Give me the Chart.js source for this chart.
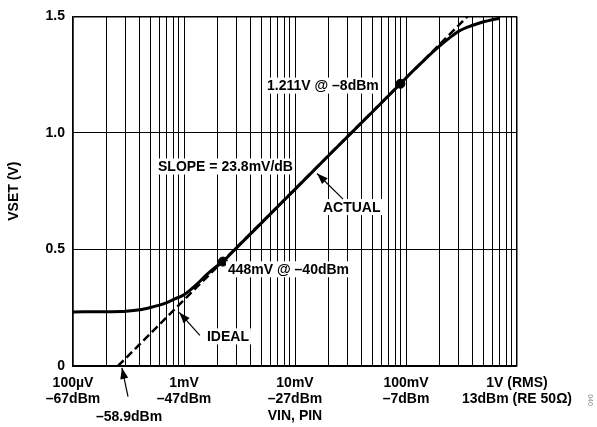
<!DOCTYPE html>
<html>
<head>
<meta charset="utf-8">
<script src="https://cdn.jsdelivr.net/npm/chart.js@4/dist/chart.umd.min.js"></script>
<style>
  html, body { margin: 0; padding: 0; background: #fff; }
  #wrap { width: 597px; height: 427px; }
</style>
</head>
<body>
<div id="wrap"><canvas id="chartVset"></canvas></div>
<script>
// input voltage (V rms) and VSET (V)
const actualVin = [1e-4, 2e-4, 3e-4, 4e-4, 5e-4, 6e-4, 7e-4, 8e-4, 1e-3, 1.3e-3, 1.6e-3, 2e-3, 2.24e-3, 3e-3, 5e-3, 1e-2, 2e-2, 5e-2, 8.91e-2, 0.11, 0.15, 0.2, 0.25, 0.3, 0.4, 0.5, 0.6, 0.7];
const actualVset = [0.232, 0.233, 0.235, 0.241, 0.251, 0.261, 0.272, 0.285, 0.306, 0.350, 0.392, 0.430, 0.448, 0.509, 0.614, 0.758, 0.902, 1.091, 1.211, 1.256, 1.318, 1.372, 1.41, 1.437, 1.462, 1.477, 1.486, 1.492];

// ideal line: 0 V at -58.9 dBm, 23.8 mV/dB
const idealVin = [2.54e-4, 0.359];
const idealVset = [0, 1.5];

// marked points
const markVin = [2.24e-3, 8.91e-2];
const markVset = [0.448, 1.211];

const decades = [1e-4, 1e-3, 1e-2, 1e-1, 1];
const decadeLabels = [
  ["100µV", "–67dBm"],
  ["1mV", "–47dBm"],
  ["10mV", "–27dBm"],
  ["100mV", "–7dBm"],
  ["1V (RMS)", "13dBm (RE 50Ω)"],
];
const yTicks = [0, 0.5, 1.0, 1.5];

const noteText = ["SLOPE = 23.8mV/dB", "ACTUAL", "448mV @ –40dBm", "1.211V @ –8dBm", "IDEAL", "–58.9dBm"];
const noteX = [5.83e-4, 0.01787, 0.00249, 0.0056, 0.00161, 3.2e-4];
const noteY = [0.856, 0.682, 0.415, 1.203, 0.127, -0.216];

const arrowFrom = [[0.0271, 0.716], [0.00139, 0.131], [3.13e-4, -0.131]];
const arrowTo = [[0.0158, 0.826], [9.07e-4, 0.23], [2.76e-4, -0.008]];

const FONT = "'Liberation Sans', Arial, sans-serif";

function pts(xs, ys) {
  return xs.map((x, i) => ({ x: x, y: ys[i] }));
}

const notesPlugin = {
  id: "notes",
  afterDatasetsDraw(chart) {
    const ctx = chart.ctx;
    const sx = chart.scales.x;
    const sy = chart.scales.y;
    ctx.save();
    ctx.font = "bold 14px " + FONT;
    ctx.textBaseline = "middle";
    noteText.forEach((t, i) => {
      const px = sx.getPixelForValue(noteX[i]);
      const py = sy.getPixelForValue(noteY[i]);
      const w = ctx.measureText(t).width;
      let left = px;
      if (i === 5) left = px - w / 2;
      if (i !== 5) {
        ctx.fillStyle = "#fff";
        ctx.fillRect(left - 2, py - 8, w + 4, 16);
      }
      ctx.fillStyle = "#000";
      ctx.textAlign = "left";
      ctx.fillText(t, left, py + 1);
    });

    // arrows
    ctx.strokeStyle = "#000";
    ctx.fillStyle = "#000";
    ctx.lineWidth = 1.2;
    arrowFrom.forEach((f, i) => {
      const x0 = sx.getPixelForValue(f[0]);
      const y0 = sy.getPixelForValue(f[1]);
      const x1 = sx.getPixelForValue(arrowTo[i][0]);
      const y1 = sy.getPixelForValue(arrowTo[i][1]);
      const a = Math.atan2(y1 - y0, x1 - x0);
      ctx.beginPath();
      ctx.moveTo(x0, y0);
      ctx.lineTo(x1, y1);
      ctx.stroke();
      const hl = 11, hw = 4;
      ctx.beginPath();
      ctx.moveTo(x1, y1);
      ctx.lineTo(x1 - hl * Math.cos(a) + hw * Math.sin(a), y1 - hl * Math.sin(a) - hw * Math.cos(a));
      ctx.lineTo(x1 - hl * Math.cos(a) - hw * Math.sin(a), y1 - hl * Math.sin(a) + hw * Math.cos(a));
      ctx.closePath();
      ctx.fill();
    });

    // figure number
    ctx.translate(chart.width - 7, 400);
    ctx.rotate(Math.PI / 2);
    ctx.font = "7px " + FONT;
    ctx.fillStyle = "#888";
    ctx.textAlign = "center";
    ctx.fillText("040", 0, 0);
    ctx.restore();
  },
};

new Chart(document.getElementById("chartVset"), {
  type: "line",
  data: {
    datasets: [
      {
        data: pts(idealVin, idealVset),
        borderColor: "#000",
        borderWidth: 2.5,
        borderDash: [8, 4],
        pointRadius: 0,
        tension: 0,
      },
      {
        data: pts(actualVin, actualVset),
        borderColor: "#000",
        borderWidth: 3,
        pointRadius: 0,
        cubicInterpolationMode: "monotone",
      },
      {
        data: pts(markVin, markVset),
        showLine: false,
        pointRadius: 4.5,
        pointBackgroundColor: "#000",
        pointBorderColor: "#000",
      },
    ],
  },
  options: {
    responsive: true,
    maintainAspectRatio: false,
    animation: false,
    layout: { padding: { left: 6, top: 12, right: 80, bottom: 2 } },
    plugins: {
      legend: { display: false },
      tooltip: { enabled: false },
    },
    scales: {
      x: {
        type: "logarithmic",
        min: 1e-4,
        max: 1,
        afterBuildTicks: (scale) => {
          const t = [];
          decades.forEach((d, i) => {
            if (i === decades.length - 1) {
              t.push({ value: d });
              return;
            }
            for (let k = 1; k <= 9; k++) t.push({ value: d * k });
          });
          scale.ticks = t;
        },
        afterFit: (scale) => {
          scale.height = 59;
        },
        ticks: {
          autoSkip: false,
          maxRotation: 0,
          padding: 9,
          color: "#000",
          font: { family: FONT, size: 14, weight: "bold", lineHeight: 1.15 },
          callback: (value) => {
            const i = decades.findIndex((d) => Math.abs(d - value) / d < 1e-6);
            return i >= 0 ? decadeLabels[i] : "";
          },
        },
        grid: {
          color: "#000",
          lineWidth: (c) => (c.tick && (c.tick.value === 1 || c.tick.value === 1e-4) ? 1.5 : 1),
          drawTicks: false,
        },
        border: { color: "#000", width: 1.5 },
        title: {
          display: true,
          text: "VIN, PIN",
          color: "#000",
          padding: 0,
          font: { family: FONT, size: 14, weight: "bold" },
        },
      },
      y: {
        min: 0,
        max: 1.5,
        afterBuildTicks: (scale) => {
          scale.ticks = yTicks.map((v) => ({ value: v }));
        },
        afterFit: (scale) => {
          scale.width = 67;
        },
        ticks: {
          padding: 8,
          color: "#000",
          font: { family: FONT, size: 14, weight: "bold" },
          callback: (v) => (v === 0 ? "0" : v.toFixed(1)),
        },
        grid: {
          color: "#000",
          lineWidth: (c) => (c.tick && c.tick.value === 1.5 ? 1.5 : 1),
          drawTicks: false,
        },
        border: { color: "#000", width: 1.5 },
        title: {
          display: true,
          text: "VSET (V)",
          color: "#000",
          padding: 0,
          font: { family: FONT, size: 14, weight: "bold" },
        },
      },
    },
  },
  plugins: [notesPlugin],
});
</script>
</body>
</html>
